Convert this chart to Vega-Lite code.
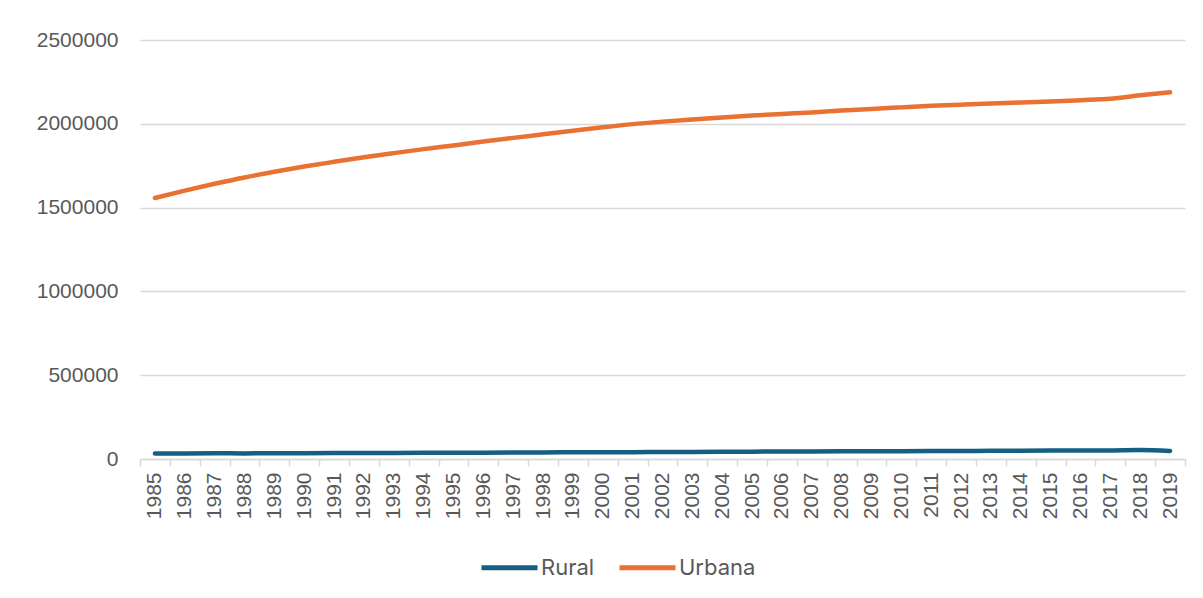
{
  "$schema": "https://vega.github.io/schema/vega-lite/v6.json",
  "autosize": {"type": "none"},
  "padding": {"left": 140, "top": 40, "right": 18, "bottom": 139},
  "width": 1045,
  "height": 419,
  "background": "white",
  "config": {
    "view": {"stroke": null},
    "axis": {"labelFont": "Liberation Sans", "labelColor": "#595959", "labelFontSize": 21, "titleFont": "Liberation Sans"}
  },
  "data": {
    "values": [
      {"ano": "1985", "zona": "Rural", "pop": 33000}, {"ano": "1985", "zona": "Urbana", "pop": 1557000},
      {"ano": "1986", "zona": "Rural", "pop": 33500}, {"ano": "1986", "zona": "Urbana", "pop": 1601000},
      {"ano": "1987", "zona": "Rural", "pop": 34000}, {"ano": "1987", "zona": "Urbana", "pop": 1642000},
      {"ano": "1988", "zona": "Rural", "pop": 33500}, {"ano": "1988", "zona": "Urbana", "pop": 1680000},
      {"ano": "1989", "zona": "Rural", "pop": 34500}, {"ano": "1989", "zona": "Urbana", "pop": 1714000},
      {"ano": "1990", "zona": "Rural", "pop": 35000}, {"ano": "1990", "zona": "Urbana", "pop": 1745000},
      {"ano": "1991", "zona": "Rural", "pop": 35500}, {"ano": "1991", "zona": "Urbana", "pop": 1773000},
      {"ano": "1992", "zona": "Rural", "pop": 36000}, {"ano": "1992", "zona": "Urbana", "pop": 1800000},
      {"ano": "1993", "zona": "Rural", "pop": 36500}, {"ano": "1993", "zona": "Urbana", "pop": 1825000},
      {"ano": "1994", "zona": "Rural", "pop": 37000}, {"ano": "1994", "zona": "Urbana", "pop": 1849000},
      {"ano": "1995", "zona": "Rural", "pop": 37500}, {"ano": "1995", "zona": "Urbana", "pop": 1871000},
      {"ano": "1996", "zona": "Rural", "pop": 38000}, {"ano": "1996", "zona": "Urbana", "pop": 1894000},
      {"ano": "1997", "zona": "Rural", "pop": 39000}, {"ano": "1997", "zona": "Urbana", "pop": 1916000},
      {"ano": "1998", "zona": "Rural", "pop": 39500}, {"ano": "1998", "zona": "Urbana", "pop": 1937000},
      {"ano": "1999", "zona": "Rural", "pop": 40000}, {"ano": "1999", "zona": "Urbana", "pop": 1958000},
      {"ano": "2000", "zona": "Rural", "pop": 40500}, {"ano": "2000", "zona": "Urbana", "pop": 1979000},
      {"ano": "2001", "zona": "Rural", "pop": 41000}, {"ano": "2001", "zona": "Urbana", "pop": 1998000},
      {"ano": "2002", "zona": "Rural", "pop": 41500}, {"ano": "2002", "zona": "Urbana", "pop": 2013000},
      {"ano": "2003", "zona": "Rural", "pop": 42500}, {"ano": "2003", "zona": "Urbana", "pop": 2026000},
      {"ano": "2004", "zona": "Rural", "pop": 43000}, {"ano": "2004", "zona": "Urbana", "pop": 2038000},
      {"ano": "2005", "zona": "Rural", "pop": 44000}, {"ano": "2005", "zona": "Urbana", "pop": 2049000},
      {"ano": "2006", "zona": "Rural", "pop": 44500}, {"ano": "2006", "zona": "Urbana", "pop": 2059000},
      {"ano": "2007", "zona": "Rural", "pop": 45000}, {"ano": "2007", "zona": "Urbana", "pop": 2068000},
      {"ano": "2008", "zona": "Rural", "pop": 45500}, {"ano": "2008", "zona": "Urbana", "pop": 2079000},
      {"ano": "2009", "zona": "Rural", "pop": 46000}, {"ano": "2009", "zona": "Urbana", "pop": 2089000},
      {"ano": "2010", "zona": "Rural", "pop": 46500}, {"ano": "2010", "zona": "Urbana", "pop": 2098000},
      {"ano": "2011", "zona": "Rural", "pop": 47000}, {"ano": "2011", "zona": "Urbana", "pop": 2107000},
      {"ano": "2012", "zona": "Rural", "pop": 47500}, {"ano": "2012", "zona": "Urbana", "pop": 2114000},
      {"ano": "2013", "zona": "Rural", "pop": 48500}, {"ano": "2013", "zona": "Urbana", "pop": 2121000},
      {"ano": "2014", "zona": "Rural", "pop": 49000}, {"ano": "2014", "zona": "Urbana", "pop": 2127000},
      {"ano": "2015", "zona": "Rural", "pop": 50000}, {"ano": "2015", "zona": "Urbana", "pop": 2133000},
      {"ano": "2016", "zona": "Rural", "pop": 50500}, {"ano": "2016", "zona": "Urbana", "pop": 2141000},
      {"ano": "2017", "zona": "Rural", "pop": 51000}, {"ano": "2017", "zona": "Urbana", "pop": 2150000},
      {"ano": "2018", "zona": "Rural", "pop": 53000}, {"ano": "2018", "zona": "Urbana", "pop": 2170000},
      {"ano": "2019", "zona": "Rural", "pop": 48000}, {"ano": "2019", "zona": "Urbana", "pop": 2188000}
    ]
  },
  "mark": {"type": "line", "strokeWidth": 4.5, "strokeCap": "round", "strokeJoin": "round", "interpolate": "monotone"},
  "encoding": {
    "x": {
      "field": "ano", "type": "ordinal",
      "scale": {"paddingInner": 0, "paddingOuter": 0},
      "axis": {
        "title": null, "labelAngle": -90, "labelPadding": 6, "tickBand": "extent",
        "domainColor": "#d9d9d9", "domainWidth": 1.5, "tickColor": "#d9d9d9", "tickWidth": 1.5, "tickSize": 7,
        "grid": false
      }
    },
    "y": {
      "field": "pop", "type": "quantitative",
      "scale": {"domain": [0, 2500000], "nice": false},
      "axis": {
        "title": null, "values": [0, 500000, 1000000, 1500000, 2000000, 2500000], "format": "d",
        "domain": false, "ticks": false, "labelPadding": 22,
        "gridColor": "#d9d9d9", "gridWidth": 1.5
      }
    },
    "color": {
      "field": "zona", "type": "nominal",
      "scale": {"domain": ["Rural", "Urbana"], "range": ["#156082", "#E97132"]},
      "legend": {
        "title": null, "orient": "none", "direction": "horizontal",
        "legendX": 339, "legendY": 497,
        "symbolType": "stroke", "symbolSize": 3136, "symbolStrokeWidth": 5,
        "labelFont": "Inter", "labelFontSize": 22, "labelColor": "#595959",
        "labelOffset": 1, "columnPadding": 14
      }
    }
  }
}
